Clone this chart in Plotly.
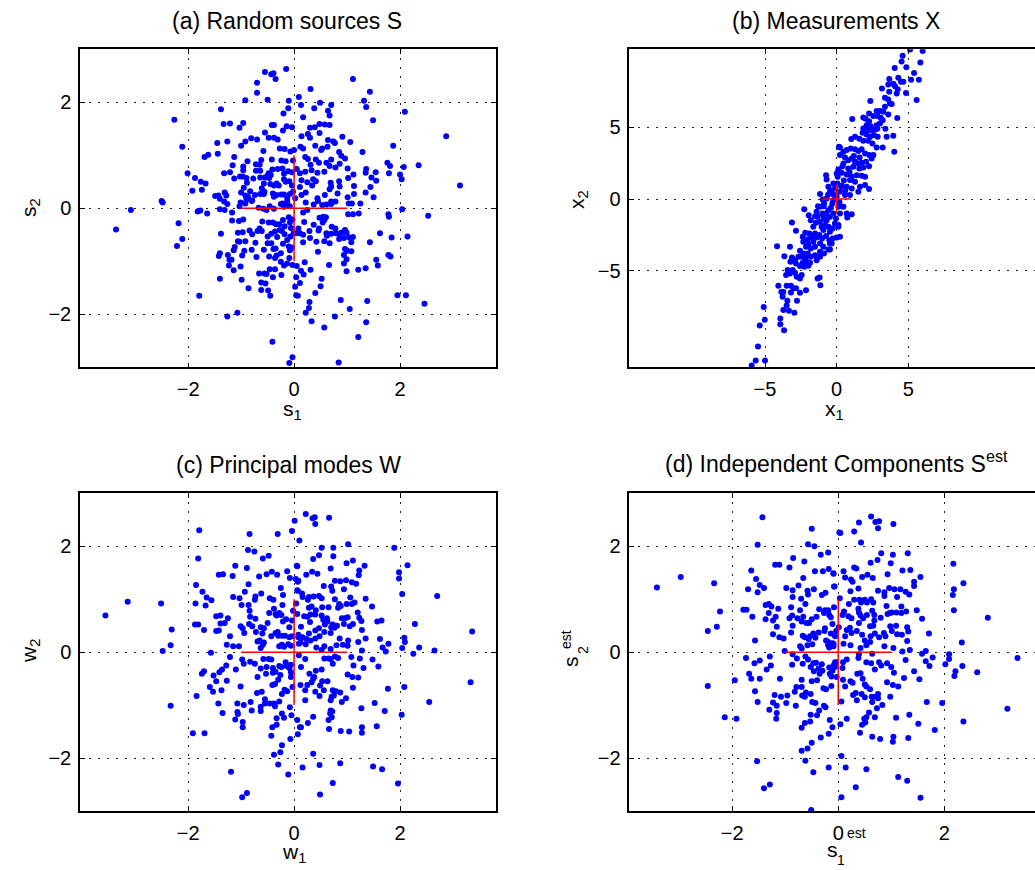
import plotly.graph_objects as go

W, H = 1035, 870
FONT = "Liberation Sans, Arial, Helvetica, sans-serif"

# ---------------- data ----------------
A_PTS = [(-0.55,2.57),(-0.43,2.53),(-0.39,2.55),(-0.35,2.44),(-0.15,2.63),(-0.70,2.37),(-0.70,2.18),(-0.92,2.04),(-0.50,2.05),(-0.10,2.03),(-1.38,1.87),(-0.11,1.89),(-0.20,1.79),(-2.26,1.67),(-1.33,1.59),(-1.21,1.60),(-0.96,1.61),(-1.03,1.52),(-0.42,1.57),(-0.38,1.57),(-0.21,1.47),(-0.14,1.55),(-0.04,1.53),(-0.55,1.43),(-2.11,1.16),(-1.45,1.23),(-1.26,1.26),(-0.92,1.26),(-0.81,1.32),(-0.70,1.30),(-0.48,1.33),(-0.38,1.33),(-0.31,1.30),(-1.00,1.18),(-0.58,1.08),(-0.27,1.13),(-0.18,1.12),(-0.07,1.07),(0.00,1.10),(-1.69,0.97),(-1.62,1.01),(-1.44,1.03),(-1.13,0.97),(-0.88,0.89),(-0.72,0.83),(-0.65,0.82),(-0.62,0.91),(-0.42,0.92),(-0.24,0.90),(-0.16,0.89),(-0.02,0.90),(-2.01,0.66),(-1.16,0.81),(-0.96,0.79),(-0.96,0.72),(-1.32,0.66),(-1.21,0.68),(-1.02,0.60),(-0.97,0.60),(-0.90,0.57),(-0.72,0.71),(-0.64,0.71),(-0.48,0.66),(-0.44,0.63),(-0.41,0.73),(-0.31,0.74),(-0.22,0.75),(-0.19,0.65),(-0.11,0.70),(-0.04,0.68),(-1.87,0.57),(-1.76,0.50),(-1.67,0.47),(-1.92,0.33),(-1.74,0.35),(-1.13,0.56),(-0.95,0.39),(-0.89,0.48),(-0.77,0.56),(-0.64,0.58),(-0.55,0.58),(-0.50,0.62),(-0.47,0.57),(-0.57,0.47),(-0.45,0.46),(-0.38,0.43),(-0.33,0.47),(-0.29,0.43),(-0.19,0.55),(-0.16,0.50),(-0.09,0.51),(-0.04,0.43),(-1.49,0.23),(-1.43,0.24),(-1.31,0.30),(-1.28,0.24),(-1.40,0.18),(-1.32,0.13),(-1.26,0.08),(-1.00,0.30),(-0.92,0.24),(-0.83,0.32),(-0.87,0.22),(-0.79,0.15),(-0.74,0.25),(-0.64,0.27),(-0.57,0.27),(-0.61,0.38),(-0.56,0.31),(-0.40,0.28),(-0.38,0.22),(-0.33,0.25),(-0.24,0.26),(-0.19,0.26),(-0.13,0.19),(-0.08,0.27),(-0.25,0.08),(-0.22,0.09),(-0.19,0.03),(-0.13,0.13),(-0.14,0.06),(-0.08,0.04),(-1.01,0.11),(-0.92,0.09),(-0.90,0.16),(-0.80,0.14),(-1.03,0.04),(-2.50,0.14),(-2.48,0.11),(-3.08,-0.03),(-1.82,-0.06),(-1.77,-0.04),(-1.64,-0.10),(-1.40,-0.02),(-1.31,-0.03),(-1.17,-0.08),(-0.67,0.01),(-0.58,-0.01),(-0.52,-0.03),(-0.46,0.04),(-0.38,-0.01),(-3.36,-0.40),(-2.18,-0.28),(-2.11,-0.58),(-2.21,-0.71),(-1.17,-0.23),(-1.04,-0.24),(-0.96,-0.21),(-0.84,-0.42),(-0.69,-0.43),(-0.65,-0.38),(-0.60,-0.25),(-0.61,-0.43),(-0.48,-0.27),(-0.40,-0.27),(-0.34,-0.30),(-0.28,-0.30),(-0.21,-0.22),(-0.18,-0.34),(-0.10,-0.17),(-0.08,-0.27),(-0.06,-0.37),(-0.03,-0.21),(-1.38,-0.48),(-1.06,-0.46),(-0.97,-0.45),(-0.79,-0.49),(-0.50,-0.53),(-0.43,-0.48),(-0.36,-0.44),(-0.32,-0.54),(-0.27,-0.41),(-0.23,-0.43),(-0.18,-0.49),(-0.13,-0.60),(-0.07,-0.53),(-0.01,-0.47),(0.04,-0.47),(-1.06,-0.62),(-1.03,-0.63),(-0.92,-0.62),(-0.73,-0.65),(-0.50,-0.66),(-0.43,-0.66),(-0.35,-0.76),(-0.21,-0.67),(-0.10,-0.72),(-0.08,-0.79),(-0.04,-0.74),(-1.12,-0.73),(-1.14,-0.79),(-1.25,-0.88),(-1.40,-0.85),(-1.42,-0.90),(-1.22,-0.97),(-1.18,-0.97),(-0.98,-0.89),(-0.94,-0.80),(-0.80,-0.78),(-0.71,-0.92),(-0.57,-0.78),(-0.47,-0.91),(-0.39,-0.77),(-0.36,-0.94),(-0.33,-0.89),(-0.25,-0.85),(-1.23,-1.08),(-1.14,-1.17),(-1.01,-1.10),(-0.25,-1.01),(-0.19,-1.08),(-0.13,-1.04),(-0.09,-0.94),(-0.03,-1.07),(-0.36,-1.15),(-0.46,-1.15),(-0.56,-1.23),(-0.52,-1.24),(-0.66,-1.23),(-0.40,-1.30),(-0.24,-1.26),(-1.40,-1.33),(-0.99,-1.35),(-0.62,-1.40),(-0.54,-1.42),(0.04,-1.30),(0.02,-1.48),(-0.86,-1.51),(-0.62,-1.54),(-0.49,-1.55),(-0.45,-1.65),(0.04,-1.64),(0.07,-1.65),(-1.79,-1.65),(-1.26,-2.04),(-1.07,-1.97),(-0.41,-2.52),(-0.03,-2.81),(-0.09,-2.92),
(1.11,2.44),(1.43,2.20),(0.31,2.25),(0.09,2.10),(0.13,1.95),(0.49,1.99),(0.38,1.89),(0.70,1.95),(1.32,2.03),(1.36,1.91),(2.09,1.82),(0.64,1.84),(0.67,1.75),(0.17,1.72),(1.49,1.66),(0.30,1.52),(0.39,1.53),(0.48,1.59),(0.58,1.58),(0.67,1.57),(0.26,1.40),(0.30,1.33),(0.14,1.36),(0.48,1.42),(0.91,1.35),(1.06,1.25),(2.87,1.36),(0.64,1.29),(0.74,1.26),(0.77,1.23),(0.40,1.18),(0.53,1.13),(0.51,1.10),(0.63,1.16),(0.12,1.16),(0.17,1.13),(1.87,1.18),(1.29,1.06),(0.85,1.06),(0.89,0.99),(0.96,0.94),(0.21,0.97),(0.26,0.93),(0.41,0.92),(0.70,0.92),(0.47,0.86),(0.61,0.86),(0.67,0.80),(0.78,0.77),(0.86,0.84),(1.01,0.75),(1.76,0.86),(1.81,0.80),(1.79,0.66),(2.07,0.78),(2.35,0.81),(2.00,0.64),(2.03,0.55),(1.36,0.74),(1.35,0.67),(1.54,0.68),(1.46,0.58),(1.55,0.52),(1.12,0.64),(1.13,0.42),(1.13,0.27),(1.44,0.40),(1.50,0.21),(1.35,0.30),(1.02,0.57),(3.13,0.43),(0.31,0.82),(0.33,0.72),(0.21,0.69),(0.11,0.66),(0.05,0.74),(0.44,0.67),(0.57,0.69),(0.14,0.53),(0.25,0.49),(0.36,0.55),(0.41,0.51),(0.34,0.43),(0.69,0.48),(0.70,0.41),(0.85,0.51),(0.86,0.41),(0.82,0.28),(0.67,0.36),(0.58,0.25),(0.44,0.19),(0.45,0.14),(0.53,0.06),(0.61,0.07),(0.70,0.08),(0.70,0.13),(0.78,0.13),(1.01,0.21),(1.03,0.09),(1.09,0.09),(1.25,0.09),(0.22,0.11),(0.14,0.25),(0.02,0.19),(0.11,0.40),(0.22,0.30),(0.37,0.07),(-0.02,0.31),(0.25,-0.03),(0.17,-0.08),(1.02,-0.11),(1.11,-0.11),(1.22,-0.10),(1.78,-0.11),(1.79,-0.16),(2.04,-0.02),(2.53,-0.14),(0.48,-0.18),(0.55,-0.16),(0.60,-0.17),(0.37,-0.31),(0.47,-0.38),(0.46,-0.42),(0.61,-0.47),(0.62,-0.52),(0.70,-0.48),(0.79,-0.47),(0.85,-0.49),(0.89,-0.46),(0.96,-0.41),(0.99,-0.46),(0.71,-0.35),(0.54,-0.27),(0.57,-0.22),(0.78,-0.38),(0.19,-0.26),(0.08,-0.38),(0.11,-0.47),(0.17,-0.50),(0.29,-0.43),(0.30,-0.56),(0.42,-0.63),(0.17,-0.64),(0.57,-0.62),(0.67,-0.66),(0.85,-0.58),(0.94,-0.56),(1.04,-0.55),(1.08,-0.64),(1.11,-0.54),(0.96,-0.77),(1.00,-0.80),(1.08,-0.81),(0.94,-0.88),(0.99,-0.96),(0.94,-1.04),(0.99,-1.19),(1.21,-1.16),(1.35,-1.13),(0.45,-0.82),(0.66,-1.07),(1.43,-0.64),(1.62,-0.47),(1.84,-0.55),(2.14,-0.53),(1.78,-0.88),(1.82,-0.91),(1.55,-0.97),(1.58,-1.08),(0.20,-1.02),(0.05,-1.09),(0.31,-1.16),(0.13,-1.18),(0.18,-1.25),(0.52,-1.33),(0.40,-1.60),(0.50,-1.47),(0.11,-1.41),(1.95,-1.64),(2.11,-1.64),(2.46,-1.80),(0.88,-1.73),(1.38,-1.75),(1.05,-1.90),(0.77,-2.04),(0.29,-1.77),(0.28,-1.88),(0.22,-1.97),(0.33,-2.13),(0.57,-2.25),(1.36,-2.15),(1.21,-2.43),(0.84,-2.91)]

B_PTS = [(-5.93,-11.6),(-5.65,-11.26),(-5.00,-11.26),(-5.49,-10.28),(-5.37,-8.81),(-5.02,-8.42),(-5.09,-7.53),(-3.93,-8.72),(-3.93,-8.33),(-3.67,-9.14),(-3.72,-7.74),(-3.33,-7.79),(-2.95,-7.93),(-3.49,-7.42),(-3.44,-7.09),(-4.07,-6.05),(-3.86,-6.47),(-3.72,-6.47),(-3.77,-6.81),(-3.49,-6.05),(-3.19,-6.05),(-3.19,-6.51),(-3.02,-6.21),(-2.77,-7.09),(-2.84,-6.21),(-2.56,-6.53),(-2.14,-6.35),(-4.16,-3.28),(-3.65,-3.98),(-3.26,-3.33),(-3.12,-1.63),(-2.84,-2.21),(-3.53,-5.30),(-3.42,-4.95),(-3.26,-5.19),(-3.07,-4.95),(-2.91,-5.14),(-2.79,-5.42),(-2.56,-5.53),(-2.44,-5.30),(-3.23,-4.37),(-3.12,-4.07),(-2.91,-4.26),(-2.84,-4.49),(-2.67,-4.02),(-2.56,-4.67),(-2.37,-4.44),(-2.26,-4.72),(-2.09,-4.37),(-1.98,-4.65),(-1.86,-4.44),(-2.56,-3.60),(-2.44,-4.02),(-2.33,-3.79),(-2.19,-4.07),(-2.02,-3.79),(-1.81,-4.02),(-1.51,-3.91),(-1.40,-4.26),(-1.16,-4.02),(-1.33,-5.53),(-1.19,-5.47),(-1.14,-6.00),(-2.33,-2.98),(-2.14,-3.33),(-1.98,-3.14),(-1.81,-3.44),(-1.63,-2.98),(-1.51,-3.33),(-1.16,-3.09),(-0.93,-3.33),(-0.58,-3.51),(-0.47,-3.09),(-1.16,-3.67),(-0.88,-3.79),(-2.37,-2.63),(-2.19,-2.35),(-1.91,-2.40),(-1.74,-2.63),(-1.51,-2.40),(-1.40,-2.67),(-1.21,-2.51),(-1.02,-2.74),(-0.74,-2.58),(-0.51,-2.86),(-0.28,-2.74),(0.00,-2.67),(-2.26,-0.70),(-1.95,-1.12),(-1.81,-1.47),(-1.63,-1.93),(-1.44,-1.65),(-1.40,-0.88),(-1.35,-1.23),(-1.16,-1.58),(-1.05,-1.93),(-0.93,-2.16),(-0.81,-1.81),(-0.70,-1.47),(-0.58,-1.93),(-0.47,-2.28),(-0.28,-2.05),(-0.12,-1.70),(-0.93,-1.23),(-0.74,-1.00),(-0.58,-0.77),(-0.47,-1.23),(-0.23,-1.00),(-0.05,-1.35),(-1.16,-0.53),(-0.88,-0.30),(-1.16,0.35),(-0.98,-0.02),(-0.74,1.67),(-0.70,1.37),(-0.58,0.86),(-0.47,0.51),(-0.23,1.09),(-0.12,0.74),(0.12,1.91),(0.16,3.65),(0.23,3.07),(0.07,1.56),(0.00,0.16),(-0.23,-0.07),(-0.70,0.05),(0.12,-0.53),(0.23,-1.00),(0.12,-1.93),(0.23,-2.63),
(5.12,10.44),(6.00,10.33),(4.60,10.00),(4.53,9.60),(5.84,9.53),(4.05,9.14),(4.86,9.19),(5.40,8.79),(4.30,8.47),(4.49,8.19),(4.65,8.19),(5.19,8.33),(5.74,8.33),(3.67,8.37),(3.60,8.00),(3.95,8.05),(4.07,7.88),(4.26,7.67),(3.16,7.72),(3.67,7.49),(4.19,7.37),(4.84,7.40),(3.37,7.07),(3.60,6.95),(5.58,6.91),(2.35,6.84),(3.72,6.67),(3.84,6.63),(3.37,6.44),(2.79,6.14),(3.02,6.14),(3.26,6.09),(2.26,5.98),(2.56,5.79),(2.84,5.79),(3.07,5.67),(3.21,5.51),(3.60,5.91),(4.23,5.65),(1.09,5.58),(1.86,5.70),(2.02,5.60),(2.26,5.44),(2.09,5.16),(2.37,5.09),(2.79,5.16),(3.02,5.28),(1.86,4.93),(2.14,4.81),(2.44,4.81),(2.67,4.86),(2.84,4.91),(3.40,4.91),(1.81,4.63),(2.09,4.51),(2.33,4.35),(2.60,4.47),(2.86,4.35),(3.49,4.35),(3.95,4.42),(1.28,4.35),(1.02,4.19),(1.58,4.21),(1.86,4.07),(2.21,4.07),(2.49,3.88),(2.79,3.60),(3.21,3.60),(4.02,3.30),(0.23,3.60),(0.47,3.30),(0.70,3.42),(0.98,3.53),(1.28,3.47),(1.51,3.35),(1.74,3.47),(1.98,3.19),(2.28,3.07),(2.56,3.07),(2.44,2.84),(0.58,2.91),(0.81,2.72),(1.05,2.84),(1.28,2.60),(1.51,2.49),(1.74,2.53),(2.05,2.60),(2.26,2.30),(1.86,2.21),(1.58,2.14),(1.16,2.26),(0.81,2.14),(0.47,2.49),(0.12,2.07),(0.00,1.79),(0.35,1.84),(0.70,1.72),(1.05,1.56),(1.40,1.67),(1.74,1.63),(1.98,1.56),(0.93,1.33),(1.28,1.21),(1.98,0.98),(2.26,0.70),(1.63,0.86),(1.51,0.51),(1.05,0.74),(0.70,0.86),(0.35,0.93),(0.05,1.09),(0.23,0.51),(0.58,0.28),(0.93,0.28),(0.47,-0.53),(0.70,-1.00),(1.05,-1.05),(0.74,-1.28),(0.19,-0.42),(0.12,-1.81),(-0.35,-3.09),(-0.47,-3.51),
(-0.35,0.60),(-0.60,0.30),(-0.90,-0.50),(-1.30,-0.50),(-0.40,-0.60),(-0.80,-1.40),(-1.00,-1.00),(-1.50,-1.20),(-1.70,-2.60),(-2.00,-2.80),(-0.20,0.30),(0.30,0.90),(0.50,1.30),(0.40,2.30),(0.90,1.90),(1.20,3.00),(1.60,2.90),(0.60,0.60),(0.20,-0.20),(-0.30,-0.30)]

C_PTS = [(0.01,2.48),(-0.04,2.29),(0.10,2.11),(-1.79,2.30),(-0.84,2.23),(-0.31,2.23),(-0.87,1.93),(-0.75,1.90),(-1.81,1.77),(-0.59,1.77),(-0.48,1.82),(-1.11,1.63),(-0.89,1.59),(-1.42,1.46),(-1.34,1.47),(-1.16,1.44),(-0.66,1.43),(-0.52,1.47),(-0.42,1.52),(-0.32,1.46),(-0.13,1.53),(-0.08,1.40),(0.05,1.63),(0.03,1.38),(0.07,1.33),(-1.85,1.27),(-1.73,1.14),(-0.86,1.28),(-0.93,1.14),(-0.62,1.11),(-0.25,1.21),(0.07,1.16),(-1.65,1.03),(-1.56,0.98),(-1.67,0.88),(-1.86,0.92),(-1.15,1.04),(-1.03,1.02),(-0.99,0.89),(-0.86,0.89),(-0.73,1.05),(-0.74,0.99),(-0.84,0.78),(-0.46,1.02),(-0.39,0.99),(-0.21,1.08),(-0.22,0.89),(-0.02,0.78),(-0.47,0.74),(-0.38,0.82),(-0.35,0.72),(-0.28,0.74),(-0.24,0.70),(-0.33,0.69),(-0.21,0.58),(-0.15,0.62),(-0.04,0.60),(-0.09,0.47),(-3.56,0.69),(-3.14,0.95),(-2.51,0.92),(-2.31,0.43),(-2.33,0.13),(-2.48,0.02),(-1.47,0.68),(-1.39,0.69),(-1.25,0.64),(-1.39,0.54),(-1.31,0.55),(-1.47,0.40),(-1.42,0.41),(-1.21,0.30),(-1.87,0.52),(-1.81,0.52),(-1.70,0.42),(-1.01,0.49),(-0.97,0.45),(-0.94,0.36),(-0.83,0.67),(-0.73,0.63),(-0.85,0.53),(-0.79,0.49),(-0.72,0.38),(-0.63,0.47),(-0.57,0.45),(-0.60,0.35),(-0.50,0.55),(-0.43,0.30),(-0.35,0.36),(-0.31,0.38),(-0.30,0.31),(-0.23,0.31),(-0.17,0.31),(-0.09,0.28),(-0.04,0.30),(-1.27,0.14),(-1.15,0.11),(-1.04,0.11),(-0.69,0.20),(-0.65,0.22),(-0.57,0.18),(-0.59,0.14),(-0.63,0.08),(-0.28,0.11),(-0.23,0.14),(-0.19,0.10),(-0.11,0.15),(-0.06,0.12),(0.09,0.16),(0.08,0.28),(-1.57,-0.01),(-0.98,-0.14),(-1.21,-0.09),(-0.83,-0.18),(-0.74,-0.22),(-0.58,-0.13),(-0.48,-0.13),(-0.43,-0.14),(-0.69,-0.47),(-0.63,-0.31),(-0.52,-0.28),(-0.53,-0.41),(-0.40,-0.30),(-0.40,-0.39),(-0.35,-0.37),(-0.28,-0.26),(-0.24,-0.28),(-0.16,-0.19),(-0.14,-0.26),(-0.06,-0.24),(-0.09,-0.30),(-0.06,-0.38),(-0.06,-0.47),(-0.03,-0.66),(-0.26,-0.43),(-0.30,-0.52),(-0.36,-0.60),(-0.41,-0.62),(-0.18,-0.71),(-0.13,-0.74),(-0.23,-0.79),(-1.28,-0.25),(-1.10,-0.33),(-0.95,-0.22),(-1.70,-0.36),(-1.74,-0.41),(-1.52,-0.44),(-1.47,-0.55),(-1.41,-0.38),(-1.36,-0.33),(-1.27,-0.54),(-1.59,-0.66),(-1.53,-0.75),(-1.37,-0.72),(-1.01,-0.65),(-1.84,-0.83),(-2.33,-1.01),(-1.07,-0.97),(-0.95,-1.00),(-0.82,-0.94),(-0.70,-0.77),(-0.61,-0.75),(-0.55,-0.89),(-0.55,-0.97),(-0.46,-0.97),(-0.38,-0.97),(-0.28,-0.93),(-0.63,-1.03),(-0.80,-1.10),(-1.07,-1.13),(-0.63,-1.11),(-1.43,-0.97),(-1.35,-1.15),(-1.11,-1.27),(-0.97,-1.32),(-0.97,-1.42),(-1.06,-1.17),(-0.36,-1.02),(-0.23,-1.16),(-0.19,-1.24),(-0.33,-1.25),(-0.33,-1.37),(-0.41,-1.42),(-0.43,-1.58),(-0.08,-1.04),(-0.05,-1.19),(0.07,-1.55),(-0.07,-1.64),(0.06,-1.28),(0.11,-1.42),(-0.23,-1.76),(-0.26,-1.89),(-0.38,-1.94),(-0.30,-2.12),(-1.91,-1.53),(-1.69,-1.53),(-1.19,-2.26),(-0.98,-2.74),(-0.89,-2.66),(-0.11,-2.31),
(0.22,2.61),(0.35,2.53),(0.39,2.55),(0.40,2.42),(0.66,2.54),(1.02,2.04),(0.52,1.97),(0.74,1.97),(1.89,1.97),(0.36,1.76),(0.47,1.83),(0.74,1.81),(0.99,1.68),(1.11,1.73),(1.33,1.63),(2.14,1.64),(1.98,1.51),(1.98,1.39),(1.23,1.54),(1.22,1.45),(0.06,1.62),(0.23,1.46),(0.34,1.52),(0.44,1.48),(0.69,1.58),(0.77,1.35),(0.87,1.34),(0.98,1.36),(1.09,1.32),(1.17,1.29),(0.56,1.25),(0.70,1.24),(0.72,1.16),(0.94,1.19),(0.08,1.35),(0.06,1.17),(0.15,1.11),(0.16,1.04),(0.28,1.04),(0.37,1.05),(0.47,1.06),(0.52,1.02),(0.26,0.99),(0.77,1.00),(1.06,1.03),(1.14,0.94),(0.99,0.91),(1.09,0.91),(1.35,1.01),(1.47,0.86),(2.04,1.10),(2.70,1.06),(0.85,0.91),(0.88,0.87),(0.83,0.84),(0.65,0.85),(0.53,0.85),(0.41,0.79),(0.33,0.86),(0.28,0.84),(0.19,0.68),(0.06,0.72),(0.04,0.92),(0.25,0.67),(0.31,0.71),(0.40,0.71),(0.52,0.69),(0.55,0.61),(0.62,0.64),(0.58,0.52),(0.63,0.58),(0.70,0.47),(0.73,0.52),(0.69,0.36),(0.76,0.46),(0.81,0.50),(0.90,0.64),(0.96,0.64),(1.01,0.66),(0.94,0.53),(1.05,0.49),(1.11,0.53),(1.20,0.75),(1.23,0.65),(1.27,0.59),(1.28,0.42),(1.35,0.26),(1.21,0.19),(1.02,0.22),(1.01,0.12),(0.92,0.14),(0.86,0.26),(0.80,0.13),(0.69,0.06),(0.57,0.11),(0.52,0.04),(0.42,0.09),(0.31,0.22),(0.40,0.26),(0.28,0.35),(0.23,0.25),(0.12,0.18),(0.16,0.28),(0.08,0.33),(0.22,0.15),(0.13,0.48),(0.30,0.57),(0.40,0.41),(0.47,0.45),(0.48,0.30),(0.57,0.38),(1.57,0.58),(1.62,0.25),(1.65,0.60),(1.78,0.16),(1.73,0.01),(1.67,0.09),(1.48,-0.14),(1.59,-0.27),(2.08,0.27),(2.09,0.19),(2.04,0.08),(2.25,-0.03),(2.36,0.09),(2.65,0.03),(2.28,0.53),(3.36,0.39),(1.24,-0.12),(1.31,-0.30),(1.28,0.03),(1.08,-0.09),(1.12,-0.25),(1.21,-0.48),(1.10,-0.47),(1.01,-0.42),(1.11,-0.67),(0.98,-0.87),(0.90,-0.94),(0.87,-0.76),(0.79,-0.74),(0.73,-0.72),(0.71,-0.84),(0.69,-0.91),(0.75,-0.82),(0.56,-0.72),(0.53,-0.55),(0.49,-0.63),(0.41,-0.35),(0.52,-0.33),(0.36,-0.50),(0.33,-0.57),(0.38,-0.47),(0.25,-0.62),(0.21,-0.72),(0.40,-0.75),(0.48,-0.83),(0.29,-0.41),(0.12,-0.62),(0.13,-0.28),(0.21,-0.13),(0.09,-0.06),(0.65,-0.12),(0.57,-0.12),(0.69,-0.13),(0.83,-0.11),(0.73,-0.22),(0.77,-0.08),(0.21,-0.91),(0.63,-0.55),(0.69,-1.10),(0.72,-1.12),(0.68,-1.16),(0.65,-1.28),(0.71,-1.23),(0.66,-1.45),(0.36,-1.22),(0.26,-1.34),(0.13,-1.42),(0.88,-1.49),(1.04,-1.50),(1.27,-1.06),(1.28,-1.42),(1.28,-1.52),(1.52,-0.96),(1.71,-1.11),(1.56,-1.40),(1.77,-0.69),(2.08,-0.66),(2.03,-1.18),(2.55,-0.94),(3.33,-0.57),(1.96,-2.48),(0.36,-1.92),(0.16,-2.18),(0.48,-2.13),(0.87,-2.10),(1.49,-2.16),(1.66,-2.21),(0.73,-2.47),(0.49,-2.69)]

D_PTS = [(-1.43,2.55),(-0.50,2.33),(-1.52,2.03),(-0.57,2.04),(-0.45,2.00),(-0.19,1.88),(-0.33,1.84),(0.02,2.26),(-0.85,1.78),(-0.64,1.71),(-1.19,1.65),(-1.11,1.65),(-0.92,1.60),(-1.64,1.54),(-0.44,1.53),(-0.29,1.53),(-0.18,1.57),(-0.09,1.48),(-0.66,1.40),(-2.97,1.42),(-3.42,1.22),(-2.34,1.30),(-1.55,1.38),(-1.48,1.27),(-1.40,1.21),(-1.70,1.19),(-1.52,1.13),(-0.98,1.21),(-0.86,1.17),(-0.75,1.26),(-0.58,1.16),(-0.57,1.09),(-0.46,1.19),(-0.31,1.08),(-0.24,1.12),(-0.08,1.24),(-0.86,1.04),(-0.70,1.01),(-0.62,0.91),(-0.72,0.79),(-0.89,0.85),(-1.79,0.80),(-1.73,0.80),(-2.23,0.77),(-1.62,0.67),(-1.37,0.89),(-1.31,0.91),(-1.26,0.86),(-1.13,0.82),(-1.31,0.74),(-1.18,0.67),(-1.37,0.62),(-1.23,0.60),(-1.16,0.48),(-1.23,0.34),(-1.11,0.28),(-1.03,0.26),(-0.92,0.64),(-0.87,0.69),(-0.77,0.64),(-0.86,0.50),(-0.89,0.37),(-0.69,0.58),(-0.66,0.67),(-0.60,0.55),(-0.55,0.55),(-0.50,0.62),(-0.41,0.67),(-0.36,0.81),(-0.25,0.79),(-0.19,0.79),(-0.17,0.70),(-0.27,0.74),(-0.14,0.66),(-0.11,0.53),(-0.25,0.45),(-0.26,0.40),(-0.37,0.37),(-0.23,0.22),(-0.19,0.19),(-0.19,0.13),(-0.17,0.09),(-0.11,0.17),(-0.09,0.11),(-0.14,0.35),(-0.67,0.31),(-0.63,0.28),(-0.56,0.25),(-0.53,0.30),(-0.47,0.35),(-0.43,0.27),(-0.49,0.15),(-0.58,0.13),(-0.69,0.07),(-0.72,0.11),(-1.01,0.02),(-0.86,-0.04),(-2.46,0.40),(-2.29,0.48),(-1.57,0.22),(-1.74,-0.11),(-1.68,-0.41),(-1.58,-0.21),(-1.64,-0.50),(-1.57,-0.74),(-1.52,-0.94),(-1.48,-0.50),(-1.48,-0.16),(-1.35,-0.33),(-1.29,-0.08),(-1.27,-0.25),(-1.20,-0.81),(-1.23,-0.95),(-1.16,-1.01),(-1.16,-1.15),(-1.17,-1.26),(-1.30,-1.09),(-1.10,-0.50),(-1.08,-0.84),(-0.98,-0.96),(-0.96,-0.82),(-0.87,-0.24),(-0.78,-0.12),(-0.79,-0.66),(-0.82,-0.75),(-0.80,-1.01),(-0.69,-0.52),(-0.69,-0.66),(-0.68,-0.82),(-0.63,-0.84),(-0.61,-0.76),(-0.67,-0.22),(-0.62,-0.08),(-0.57,-0.14),(-0.52,-0.28),(-0.47,-0.21),(-0.42,-0.20),(-0.37,-0.31),(-0.31,-0.23),(-0.30,-0.35),(-0.46,-0.36),(-0.50,-0.55),(-0.40,-0.53),(-0.35,-0.41),(-0.28,-0.68),(-0.23,-0.70),(-0.16,-0.41),(-0.13,-0.46),(-0.17,-0.29),(-0.11,-0.35),(-0.06,-0.19),(-0.06,-0.28),(-0.03,-0.47),(-0.13,-0.64),(-0.52,-0.79),(-0.49,-0.94),(-0.43,-0.96),(-0.27,-1.01),(-0.24,-1.04),(-0.36,-1.10),(-0.40,-1.19),(-0.52,-1.18),(-0.53,-1.31),(-0.69,-1.43),(-0.63,-1.34),(-0.16,-1.28),(-0.18,-1.54),(-0.33,-1.61),(-0.11,-1.42),(-0.69,-1.86),(-0.58,-1.82),(-0.62,-2.05),(-0.50,-1.71),(-0.47,-2.27),(-0.18,-2.18),(-2.14,-1.23),(-1.92,-1.26),(-2.46,-0.64),(-1.95,-0.53),(-1.53,-2.06),(-1.40,-2.57),(-1.29,-2.50),(-0.51,-2.98),
(0.62,2.56),(0.70,2.46),(0.77,2.47),(0.75,2.34),(0.39,2.45),(1.04,2.42),(0.30,2.28),(0.04,2.25),(0.43,2.07),(0.81,1.87),(1.03,1.84),(1.31,1.87),(0.74,1.74),(0.61,1.69),(0.99,1.68),(0.30,1.60),(0.34,1.58),(0.10,1.53),(-0.09,1.49),(1.21,1.54),(1.36,1.55),(0.45,1.42),(0.55,1.46),(0.65,1.40),(0.13,1.41),(0.24,1.37),(0.27,1.33),(0.93,1.47),(1.55,1.42),(1.43,1.33),(1.43,1.25),(-0.07,1.24),(0.23,1.15),(0.38,1.20),(0.75,1.16),(0.87,1.13),(0.87,1.06),(0.96,1.21),(1.06,1.19),(1.17,1.19),(1.27,1.14),(1.34,1.09),(1.11,1.04),(0.03,1.02),(0.20,0.91),(0.30,0.99),(0.40,0.99),(0.43,0.94),(0.50,0.99),(0.54,0.94),(0.62,1.00),(0.66,0.94),(0.91,0.87),(1.19,0.86),(1.48,0.79),(2.17,1.67),(2.36,1.30),(2.18,1.19),(2.16,1.08),(2.18,0.79),(2.82,0.65),(1.58,0.63),(-0.08,0.85),(0.11,0.77),(0.08,0.70),(0.19,0.68),(0.25,0.64),(0.38,0.82),(0.39,0.75),(0.42,0.69),(0.47,0.64),(0.54,0.70),(0.64,0.78),(0.68,0.70),(0.68,0.60),(0.60,0.49),(0.66,0.50),(0.80,0.65),(0.93,0.72),(0.97,0.74),(1.01,0.75),(1.10,0.75),(1.19,0.74),(1.28,0.77),(0.98,0.49),(1.09,0.50),(1.01,0.40),(1.11,0.34),(1.20,0.33),(1.30,0.47),(1.32,0.39),(0.86,0.36),(0.89,0.30),(0.77,0.28),(0.69,0.35),(0.61,0.30),(0.60,0.19),(0.50,0.22),(0.45,0.33),(0.39,0.55),(0.35,0.40),(0.25,0.36),(0.22,0.46),(0.13,0.30),(0.16,0.42),(0.01,0.47),(-0.04,0.40),(-0.06,0.30),(-0.09,0.16),(0.10,0.16),(0.23,0.13),(0.42,0.08),(0.53,0.13),(0.87,0.11),(1.04,0.08),(1.21,0.01),(1.30,0.21),(1.35,0.04),(1.71,0.35),(1.58,-0.03),(1.65,0.02),(1.78,-0.10),(1.72,-0.26),(1.65,-0.17),(2.09,-0.04),(2.09,-0.13),(2.02,-0.23),(2.33,0.18),(2.34,-0.26),(2.21,-0.36),(2.19,-0.45),(2.62,-0.38),(3.38,-0.11),(3.19,-1.07),(2.36,-1.31),(1.96,-0.96),(1.67,-0.94),(1.53,-0.51),(1.43,-0.36),(1.27,-0.15),(1.24,-0.49),(1.13,-0.65),(1.03,-0.62),(0.98,-0.84),(1.05,-0.39),(1.00,-0.28),(0.92,-0.57),(0.92,-0.21),(0.81,-0.25),(0.77,-0.19),(0.69,-0.33),(0.62,-0.21),(0.53,-0.19),(0.64,-0.03),(0.39,-0.04),(0.38,-0.11),(0.16,-0.14),(0.09,-0.19),(-0.04,-0.19),(-0.09,-0.25),(0.08,-0.30),(0.09,-0.52),(0.13,-0.65),(0.23,-0.55),(0.27,-0.58),(0.28,-0.81),(0.33,-0.77),(0.36,-0.41),(0.42,-0.40),(0.46,-0.50),(0.50,-0.61),(0.53,-0.65),(0.60,-0.70),(0.44,-0.79),(0.50,-0.85),(0.35,-0.91),(0.06,-0.93),(0.63,-0.84),(0.69,-0.84),(0.75,-0.79),(0.75,-0.87),(0.64,-0.94),(0.83,-1.00),(0.73,-1.06),(0.58,-1.14),(0.69,-1.23),(0.53,-1.23),(0.49,-1.26),(0.51,-1.33),(0.45,-1.37),(0.41,-1.52),(0.04,-1.36),(0.16,-1.26),(0.64,-1.60),(0.79,-1.64),(1.04,-1.60),(1.03,-1.69),(1.09,-1.24),(1.34,-1.18),(1.32,-1.62),(1.82,-1.47),(1.51,-1.35),(0.06,-1.96),(0.14,-2.18),(0.53,-2.21),(1.13,-2.36),(1.30,-2.43),(0.33,-2.55),(0.06,-2.74),(1.55,-2.75)]

# unit cross drawn at the origin of every panel
CROSS_X = [-1, 1, None, 0, 0]
CROSS_Y = [0, 0, None, -1, 1]

TITLES = ["(a) Random sources S", "(b) Measurements X",
          "(c) Principal modes W", "(d) Independent Components S<sup>est</sup>"]
TICKS_SMALL = [-2, 0, 2]
TICKS_WIDE = [-5, 0, 5]

# ---------------- layout (pixel boxes) ----------------
def fx(p): return p / W
def fy(p): return 1 - p / H

panels = [
    dict(pts=A_PTS, xdom=[fx(80), fx(496)], ydom=[fy(367.3), fy(49.3)],
         xr=[-4.04, 3.81], yr=[-3.0, 3.0], ticks=TICKS_SMALL, right=True),
    dict(pts=B_PTS, xdom=[fx(629.3), 1.0], ydom=[fy(367.3), fy(49.3)],
         xr=[-14.47, 13.84], yr=[-11.73, 10.45], ticks=TICKS_WIDE, right=False),
    dict(pts=C_PTS, xdom=[fx(80), fx(496)], ydom=[fy(811), fy(493.3)],
         xr=[-4.04, 3.81], yr=[-3.0, 3.0], ticks=TICKS_SMALL, right=True),
    dict(pts=D_PTS, xdom=[fx(629.3), 1.0], ydom=[fy(811), fy(493.3)],
         xr=[-3.94, 3.71], yr=[-3.0, 3.0], ticks=TICKS_SMALL, right=False),
]

fig = go.Figure()
layout = dict(width=W, height=H, margin=dict(l=0, r=0, t=0, b=0),
              paper_bgcolor="white", plot_bgcolor="white", showlegend=False,
              font=dict(family=FONT, size=20, color="black"))

for i, p in enumerate(panels):
    n = "" if i == 0 else str(i + 1)
    xs = [q[0] for q in p["pts"]]
    ys = [q[1] for q in p["pts"]]
    fig.add_trace(go.Scatter(x=xs, y=ys, mode="markers", xaxis="x" + n, yaxis="y" + n,
                             marker=dict(color="#0000ff", size=6, line=dict(width=0)),
                             hoverinfo="skip"))
    fig.add_trace(go.Scatter(x=CROSS_X, y=CROSS_Y, mode="lines", xaxis="x" + n, yaxis="y" + n,
                             line=dict(color="#ff0000", width=1.5), hoverinfo="skip"))
    common = dict(showgrid=True, gridcolor="#222", griddash="2px,7px", gridwidth=1,
                  zeroline=False, showline=True, linecolor="black", linewidth=1.5,
                  ticks="inside", ticklen=5, tickcolor="black", tickwidth=1,
                  tickvals=p["ticks"], tickfont=dict(family=FONT, size=20, color="black"),
                  fixedrange=True)
    layout["xaxis" + n] = dict(common, domain=p["xdom"], range=p["xr"],
                               anchor="y" + n, mirror="ticks", ticklabelstandoff=3)
    layout["yaxis" + n] = dict(common, domain=p["ydom"], range=p["yr"],
                               anchor="x" + n, mirror="ticks" if p["right"] else False,
                               ticklabelstandoff=3)

fig.update_layout(**layout)

ann = []
def text(s, x, y, size=21, angle=0):
    ann.append(dict(text=s, x=fx(x), y=fy(y), xref="paper", yref="paper",
                    xanchor="center", yanchor="middle", showarrow=False,
                    textangle=angle, font=dict(family=FONT, size=size, color="black")))

# titles
text(TITLES[0], 287, 21, 23)
text(TITLES[1], 836, 21, 23)
text(TITLES[2], 288, 465, 23)
text(TITLES[3], 836, 462, 23)
# x labels
text("s<sub>1</sub>", 292, 410)
text("x<sub>1</sub>", 834, 410)
text("w<sub>1</sub>", 294, 853)
text("s", 832, 849)
text("1", 841, 860, 14)
text("est", 856, 833, 14)
# y labels
text("s<sub>2</sub>", 30, 208, 21, -90)
text("x<sub>2</sub>", 578, 200, 21, -90)
text("w<sub>2</sub>", 30, 651, 21, -90)
text("s", 570, 662, 21, -90)
text("2", 583, 650, 14, -90)
text("est", 566, 640, 14, -90)

fig.update_layout(annotations=ann)
fig.write_html("out.html")
